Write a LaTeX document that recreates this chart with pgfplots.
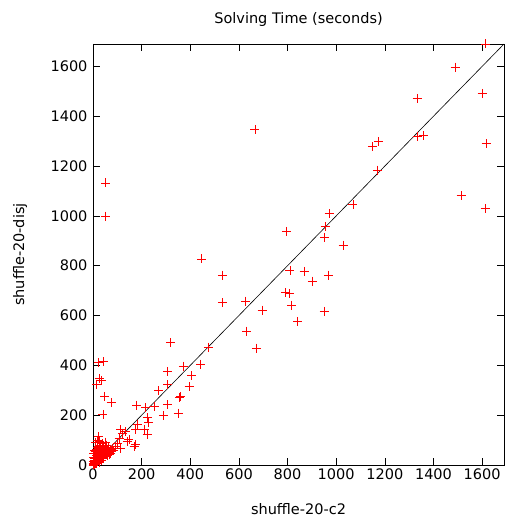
\documentclass[border=0pt]{standalone}
\usepackage{fontspec}
\setmainfont{DejaVu Sans}
\usepackage{pgfplots}
\pgfplotsset{compat=1.18}
\begin{document}
\begin{tikzpicture}
\begin{axis}[
  scale only axis, width=411pt, height=421pt,
  xmin=0, xmax=1690, ymin=0, ymax=1690,
  xtick={0,200,...,1600}, ytick={0,200,...,1600},
  tick align=inside, major tick length=7pt,
  tick style={black, line width=0.6pt},
  axis line style={black, line width=0.9pt},
  /pgf/number format/assume math mode=true,
  /pgf/number format/1000 sep={},
  ticklabel style={font=\fontsize{14.5}{16}\selectfont},
  yticklabel style={xshift=-2pt},
  label style={font=\fontsize{14.5}{16}\selectfont},
  title={Solving Time (seconds)},
  title style={font=\fontsize{14.5}{16}\selectfont, at={(axis description cs:0.5,1.043)}, anchor=center, yshift=0pt},
  xlabel={shuffle-20-c2},
  xlabel style={at={(axis description cs:0.5,-0.1045)}, anchor=center},
  ylabel={shuffle-20-disj},
  ylabel style={at={(axis description cs:-0.1776,0.5)}, anchor=center},
  clip=false,
]
\addplot[black, line width=0.6pt, mark=none] coordinates {(0,0) (1690,1690)};
\addplot[only marks, mark=+, mark size=4.5pt, color=red, line width=0.9pt] table {
x y
1613 1690
1489 1597
1600 1492
1616 1290
1514 1081
1612 1028
1333 1472
1333 1318
1357 1322
1149 1277
1174 1297
1170 1184
1069 1044
666 1347
795 938
971 1008
954 958
953 914
1028 883
447 827
532 762
532 652
628 658
632 537
672 469
695 622
810 779
868 777
902 738
968 762
792 692
809 688
817 642
842 575
950 617
474 473
443 405
320 491
372 397
406 359
306 375
308 323
395 314
270 299
361 275
355 272
306 242
251 234
180 240
216 230
350 208
289 199
223 189
230 171
182 164
176 141
210 141
223 124
114 141
121 128
134 134
148 101
169 74
107 108
93 74
52 1132
52 999
22 410
45 414
25 347
34 340
14 325
49 275
75 250
41 203
21 114
100 87
141 94
176 81
114 67
86 60
73 47
45 60
0 0
2 3
3 1
5 5
4 8
6 2
8 10
10 6
12 12
9 15
15 10
14 18
18 14
20 22
17 25
22 18
25 27
24 33
28 22
30 35
27 40
32 28
35 38
38 30
33 45
40 42
42 50
45 36
48 48
50 55
36 55
30 60
20 50
15 40
12 30
8 25
5 20
18 70
25 80
10 90
30 75
40 65
55 45
60 58
62 70
55 80
65 50
70 62
75 55
80 68
50 92
38 85
20 100
8 60
3 45
58 38
68 42
45 25
35 18
25 12
15 5
7 12
1 8
2 15
4 30
12 55
28 95
44 72
52 66
24 58
16 62
};
\end{axis}
\pgfresetboundingbox
\path ([shift={(-93pt,-53pt)}]current axis.south west) rectangle ([shift={(1pt,44pt)}]current axis.north east);
\end{tikzpicture}
\end{document}
